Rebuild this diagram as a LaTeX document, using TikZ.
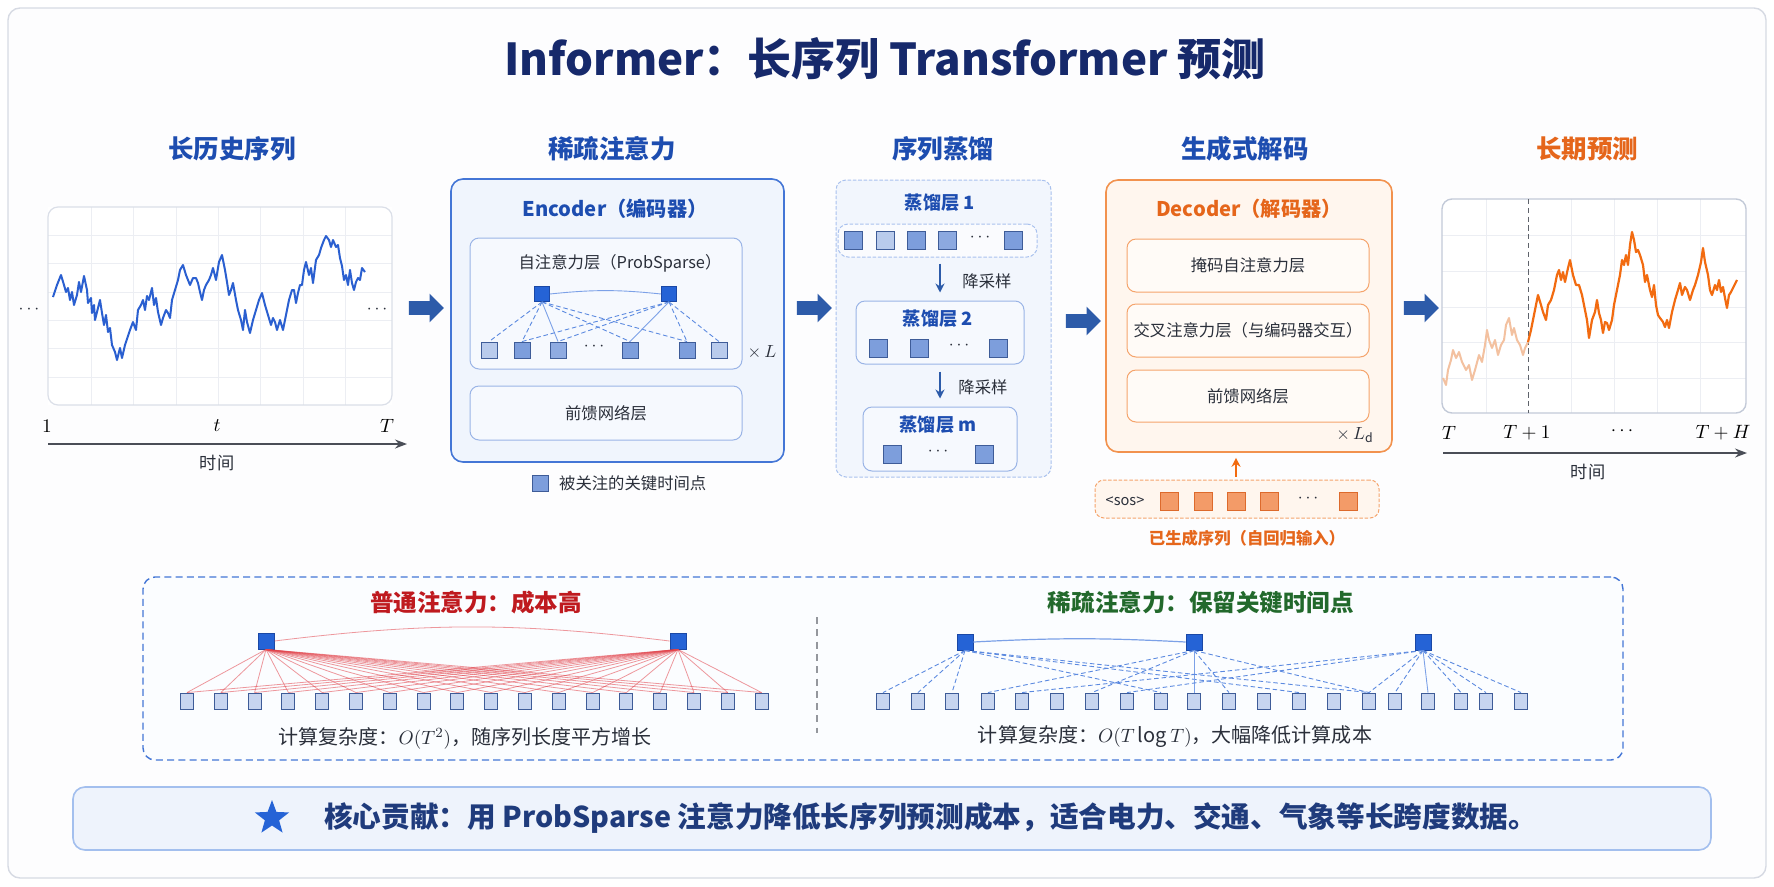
\documentclass[tikz,border=0pt]{standalone}
\usepackage{fontspec}
\setmainfont{Noto Sans CJK SC}
\usetikzlibrary{arrows.meta,shapes.arrows,shapes.geometric}

\newlength\pu
\setlength\pu{0.2mm}
\newcommand\fs[1]{\fontsize{#1}{#1}\selectfont}

\definecolor{titleblue}{HTML}{16296B}
\definecolor{headblue}{HTML}{1D4DB0}
\definecolor{headorange}{HTML}{E5661B}
\definecolor{encedge}{HTML}{4476D6}
\definecolor{encfill}{HTML}{F0F5FD}
\definecolor{inedge}{HTML}{9AB4E6}
\definecolor{infill}{HTML}{F6F9FE}
\definecolor{distedge}{HTML}{A9C1EE}
\definecolor{distfill}{HTML}{F2F6FD}
\definecolor{flowblue}{HTML}{2D5BA9}
\definecolor{keyblue}{HTML}{2563D6}
\definecolor{keyedge}{HTML}{1A48A6}
\definecolor{cmid}{HTML}{7D9EDC}
\definecolor{clight}{HTML}{B9CBEC}
\definecolor{sqedge}{HTML}{3E5C98}
\definecolor{decedge}{HTML}{F2924E}
\definecolor{decfill}{HTML}{FFF6EE}
\definecolor{decin}{HTML}{F5A46C}
\definecolor{orsq}{HTML}{F39B68}
\definecolor{oredge}{HTML}{DD6A2C}
\definecolor{redhead}{HTML}{BF1A1F}
\definecolor{costred}{HTML}{E2444C}
\definecolor{greenhead}{HTML}{22692C}
\definecolor{gridgray}{HTML}{ECEEF3}
\definecolor{framegray}{HTML}{D6DAE3}
\definecolor{textgray}{HTML}{2A2F3A}
\definecolor{bannerfill}{HTML}{EEF3FC}
\definecolor{banneredge}{HTML}{A3BFEE}
\definecolor{bannertext}{HTML}{1F3B7C}
\definecolor{histblue}{HTML}{2A5FD0}
\definecolor{fcast}{HTML}{F26B10}
\definecolor{fpast}{HTML}{F3C1A0}
\definecolor{chartedge}{HTML}{C3CAD8}

\tikzset{
  heading/.style={font=\fs{14.5}\bfseries, text=headblue},
  body/.style={font=\fs{9.3}, text=textgray},
  encbox/.style={draw=encedge, fill=encfill, rounded corners=12\pu, line width=1.6\pu},
  layerbox/.style={draw=inedge, fill=infill, rounded corners=9\pu, line width=1\pu},
  distbox/.style={draw=distedge, fill=distfill, rounded corners=10\pu, line width=1\pu, dash pattern=on 2pt off 1pt},
  decbox/.style={draw=decedge, fill=decfill, rounded corners=12\pu, line width=1.6\pu},
  declayer/.style={draw=decin, fill=white!55!decfill, rounded corners=9\pu, line width=1\pu},
  sq/.style={draw=sqedge, line width=0.9\pu, minimum size=16\pu, inner sep=0pt},
  keysq/.style={sq, fill=keyblue, draw=keyedge},
  midsq/.style={sq, fill=cmid},
  lightsq/.style={sq, fill=clight},
  cellsq/.style={sq, fill=clight!80!white, minimum width=13\pu, minimum height=16\pu},
  orangesq/.style={sq, fill=orsq, draw=oredge, minimum size=18\pu},
  flow/.style={single arrow, fill=flowblue, inner sep=0pt, text height=13\pu, text depth=0pt,
    minimum height=35\pu, single arrow head extend=7.5\pu},
  down/.style={flowblue, line width=2\pu, -{Stealth[length=5.1pt,width=5.1pt]}},
  att/.style={keyblue!75, line width=0.9\pu, dash pattern=on 2.6pt off 1.6pt},
  attsolid/.style={keyblue!60, line width=0.9\pu},
  costline/.style={costred, opacity=0.55, line width=0.8\pu},
  grid line/.style={gridgray, line width=0.8\pu},
  axis/.style={textgray!85, line width=1.4\pu, -{Stealth[length=6.8pt,width=5.1pt]}},
}

\begin{document}
\begin{tikzpicture}[x=0.2mm,y=-0.2mm]
\useasboundingbox (0,0) rectangle (1774,887);
% Frame
\draw[framegray, fill=white!70!gridgray!30, line width=1.4\pu, rounded corners=12\pu] (8,8) rectangle (1766,878);
\node[font=\fs{25}\bfseries, text=titleblue] (title) at (885,59) {Informer：长序列 Transformer 预测};

% Headings
\node[heading] (h1) at (232,149) {长历史序列};
\node[heading] (h2) at (612,149) {稀疏注意力};
\node[heading] (h3) at (943,149) {序列蒸馏};
\node[heading] (h4) at (1245,149) {生成式解码};
\node[heading, text=headorange] (h5) at (1587,149) {长期预测};

% History chart
\fill[white] (48,207) rectangle (392,405);
\foreach \x in {91,133,176,218,260,303,345} \draw[grid line] (\x,207) -- (\x,405);
\foreach \y in {235,263,292,320,348,377} \draw[grid line] (48,\y) -- (392,\y);
\draw[chartedge!60, line width=1.2\pu, rounded corners=10\pu] (48,207) rectangle (392,405);
\draw[histblue, line width=2\pu, line join=round] plot coordinates {
 (53,297) (57,285) (61,275) (64,285) (66,292) (68,288) (70,300) (72,292) (74,305) (77,295)
 (79,282) (81,292) (84,276) (87,290) (88,303) (91,298) (92,313) (94,305) (95,320) (98,308)
 (100,300) (102,313) (104,325) (106,315) (108,332) (110,328) (112,345) (115,352) (117,360) (120,348)
 (122,358) (125,345) (128,336) (130,330) (133,322) (136,330) (138,310) (141,305) (143,300) (145,310)
 (147,296) (149,300) (152,288) (154,305) (156,298) (158,312) (161,325) (163,318) (166,310) (168,313)
 (170,318) (172,300) (175,290) (178,280) (180,270) (183,265) (186,275) (190,285) (193,278) (196,278)
 (198,283) (200,292) (202,300) (204,290) (206,285) (209,280) (211,275) (213,268) (216,280) (219,262)
 (222,255) (225,270) (227,282) (229,295) (231,290) (233,283) (236,300) (238,310) (241,320) (243,330)
 (245,310) (247,322) (250,333) (253,320) (256,310) (259,300) (262,293) (265,305) (268,315) (271,325)
 (273,318) (275,322) (277,330) (280,320) (283,330) (286,315) (289,300) (292,290) (294,290) (296,303)
 (298,293) (300,285) (302,285) (304,270) (306,262) (309,275) (311,268) (313,283) (316,260) (319,255)
 (321,248) (324,240) (326,236) (329,240) (331,247) (333,240) (336,247) (338,245) (340,258) (342,266)
 (344,280) (346,275) (348,285) (350,270) (352,283) (354,290) (356,282) (358,278) (360,280) (362,268) (365,272)};
\node[text=textgray] (hdl) at (29,310) {$\cdots$};
\node[text=textgray] (hdr) at (377,310) {$\cdots$};
\node[font=\fs{10.8}] (t1) at (47,426) {$1$};
\node[font=\fs{10.8}] (tt) at (217,426) {$t$};
\node[font=\fs{10.8}] (tT) at (387,426) {$T$};
\coordinate (ax1a) at (48,444);
\coordinate (ax1b) at (407,444);
\draw[axis] (ax1a) -- (ax1b);
\node[body, font=\fs{9.8}] (time1) at (217,463) {时间};

% Encoder
\node[encbox, minimum width=333\pu, minimum height=283\pu] (enc) at (617.5,320.5) {};
\node[font=\fs{11.5}\bfseries, text=headblue] (enct) at (615,209) {Encoder（编码器）};
\node[layerbox, minimum width=272\pu, minimum height=131\pu] (attn) at (606,303.5) {};
\node[body] (attnt) at (620,263) {自注意力层（ProbSparse）};
\node[layerbox, minimum width=272\pu, minimum height=54\pu, body] (ffn) at (606,413) {前馈网络层};
\node[keysq, minimum size=15\pu] (kt1) at (542,294) {};
\node[keysq, minimum size=15\pu] (kt2) at (669,294) {};
\node[lightsq] (kb1) at (489,350) {};
\node[midsq] (kb2) at (522,350) {};
\node[sq, fill=cmid!70!clight] (kb3) at (558,350) {};
\node[midsq] (kb4) at (630,350) {};
\node[midsq] (kb5) at (687,350) {};
\node[lightsq] (kb6) at (719,350) {};
\node[text=textgray] (kdots) at (594,347) {$\cdots$};
\draw[attsolid] (kt1.east) to[bend left=6] (kt2.west);
\foreach \b in {kb1,kb2,kb4,kb5} \draw[att] (kt1.south) -- (\b.north);
\draw[attsolid] (kt1.south) -- (kb3.north);
\foreach \b in {kb2,kb3,kb5,kb6} \draw[att] (kt2.south) -- (\b.north);
\draw[attsolid] (kt2.south) -- (kb4.north);
\node[text=textgray, font=\fs{10}] (xl) at (762,352) {$\times\, L$};
\node[midsq] (legsq) at (540,483) {};
\node[body, anchor=west] (legt) at (553,483) {被关注的关键时间点};

% Distilling
\node[distbox, minimum width=215\pu, minimum height=297\pu] (dist) at (943.5,328.5) {};
\node[font=\fs{10.4}\bfseries, text=headblue] (d1t) at (940,203) {蒸馏层 1};
\node[distbox, fill=white!60!distfill, minimum width=199\pu, minimum height=33\pu] (row1) at (937.5,240.5) {};
\node[midsq, minimum size=18\pu] (r1a) at (853,240) {};
\node[lightsq, minimum size=18\pu] (r1b) at (885,240) {};
\node[midsq, minimum size=18\pu] (r1c) at (916,240) {};
\node[sq, fill=cmid!75!clight, minimum size=18\pu] (r1d) at (947,240) {};
\node[text=textgray] (r1dots) at (980,238) {$\cdots$};
\node[midsq, minimum size=18\pu] (r1e) at (1013,240) {};
\node[layerbox, minimum width=168\pu, minimum height=63\pu] (box2) at (940,332.5) {};
\node[font=\fs{10.4}\bfseries, text=headblue] (d2t) at (938,319) {蒸馏层 2};
\node[midsq, minimum size=18\pu] (r2a) at (878,348) {};
\node[midsq, minimum size=18\pu] (r2b) at (919,348) {};
\node[text=textgray] (r2dots) at (959,346) {$\cdots$};
\node[midsq, minimum size=18\pu] (r2c) at (998,348) {};
\node[layerbox, minimum width=154\pu, minimum height=64\pu] (box3) at (940,439) {};
\node[font=\fs{10.4}\bfseries, text=headblue] (d3t) at (938,425) {蒸馏层 m};
\node[midsq, minimum size=18\pu] (r3a) at (892,454) {};
\node[text=textgray] (r3dots) at (938,452) {$\cdots$};
\node[midsq, minimum size=18\pu] (r3b) at (984,454) {};
\draw[down, shorten <=6\pu, shorten >=8\pu] (row1.south -| d1t) -- (box2.north -| d1t);
\node[body] (ds1) at (987,281) {降采样};
\draw[down, shorten <=7\pu, shorten >=8\pu] (box2.south -| d1t) -- (box3.north -| d1t);
\node[body] (ds2) at (983,387) {降采样};

% Decoder
\node[decbox, minimum width=286\pu, minimum height=272\pu] (dec) at (1249,316) {};
\node[font=\fs{11.5}\bfseries, text=headorange] (dect) at (1249,209) {Decoder（解码器）};
\node[declayer, minimum width=242\pu, minimum height=53\pu, body] (mask) at (1248,265.5) {掩码自注意力层};
\node[declayer, minimum width=242\pu, minimum height=53\pu, body] (cross) at (1248,330.5) {交叉注意力层（与编码器交互）};
\node[declayer, minimum width=242\pu, minimum height=52\pu, body] (dffn) at (1248,396) {前馈网络层};
\node[text=textgray, font=\fs{10}] (xld) at (1355,435) {$\times\, L_{\mathrm{d}}$};
\node[draw=decin, fill=decfill, rounded corners=9\pu, line width=1\pu, dash pattern=on 2pt off 1pt,
  minimum width=284\pu, minimum height=38\pu] (gen) at (1237,499) {};
\node[font=\fs{8.3}, text=textgray] (sos) at (1125,501) {<sos>};
\node[orangesq] (g1) at (1169,501) {};
\node[orangesq] (g2) at (1203,501) {};
\node[orangesq] (g3) at (1236,501) {};
\node[orangesq] (g4) at (1269,501) {};
\node[text=textgray] (gdots) at (1308,499) {$\cdots$};
\node[orangesq] (g5) at (1348,501) {};
\draw[fcast, line width=2.4\pu, -{Stealth[length=5.1pt,width=5.1pt]}, shorten <=3\pu, shorten >=5\pu]
  (gen.north -| g3) -- (dec.south -| g3);
\node[font=\fs{9.3}\bfseries, text=headorange] (gent) at (1247,538) {已生成序列（自回归输入）};

% Forecast chart
\fill[white] (1442,199) rectangle (1746,413);
\foreach \x in {1486,1571,1614,1657,1700} \draw[grid line] (\x,199) -- (\x,413);
\foreach \y in {235,271,307,342,378} \draw[grid line] (1442,\y) -- (1746,\y);
\draw[chartedge, line width=1.4\pu, rounded corners=10\pu] (1442,199) rectangle (1746,413);
\coordinate (cutT) at (1528,199);
\coordinate (cutB) at (1528,413);
\draw[textgray!75, line width=1\pu, dash pattern=on 3pt off 2pt] (cutT) -- (cutB);
\draw[fpast, line width=2\pu, line join=round] plot coordinates {
 (1443,378) (1446,385) (1448,370) (1451,360) (1453,350) (1456,358) (1459,352) (1462,362) (1466,370) (1469,365)
 (1472,380) (1475,370) (1479,355) (1482,362) (1485,345) (1487,330) (1489,340) (1492,348) (1495,340) (1498,355)
 (1501,345) (1504,340) (1506,325) (1509,318) (1512,335) (1514,328) (1517,340) (1520,345) (1523,355) (1525,348) (1528,342)};
\draw[fcast, line width=2.2\pu, line join=round] plot coordinates {
 (1528,342) (1531,330) (1533,320) (1536,305) (1538,295) (1541,305) (1543,312) (1546,320) (1548,305) (1551,300)
 (1554,290) (1557,275) (1559,270) (1561,280) (1563,272) (1565,282) (1568,268) (1570,260) (1573,275) (1576,285)
 (1579,285) (1582,295) (1585,310) (1587,320) (1589,338) (1592,320) (1595,312) (1597,300) (1599,313) (1601,320)
 (1603,333) (1605,322) (1607,323) (1609,330) (1612,320) (1614,305) (1617,290) (1620,275) (1622,260) (1624,265)
 (1626,255) (1628,265) (1630,245) (1632,232) (1634,240) (1636,252) (1638,250) (1640,255) (1643,265) (1645,282)
 (1647,275) (1650,290) (1652,297) (1654,285) (1656,305) (1658,315) (1660,318) (1663,322) (1665,327) (1667,320)
 (1669,328) (1672,312) (1675,300) (1678,290) (1680,283) (1682,295) (1685,287) (1687,290) (1690,300) (1693,290)
 (1695,285) (1698,275) (1701,262) (1703,248) (1705,262) (1708,275) (1710,290) (1712,295) (1715,285) (1717,290)
 (1719,280) (1721,292) (1723,287) (1725,298) (1727,308) (1729,295) (1731,292) (1734,286) (1737,280)};
\node[font=\fs{10.8}] (fT) at (1449,433) {$T$};
\node[font=\fs{10.8}] (fT1) at (1527,433) {$T+1$};
\node[font=\fs{10.8}] (fdots) at (1622,431) {$\cdots$};
\node[font=\fs{10.8}] (fTH) at (1723,433) {$T+H$};
\coordinate (ax2a) at (1443,453);
\coordinate (ax2b) at (1747,453);
\draw[axis] (ax2a) -- (ax2b);
\node[body, font=\fs{9.8}] (time2) at (1588,472) {时间};

% Flow arrows
\node[flow] (f1) at (423,308) {};
\node[flow] (f2) at (811,308) {};
\node[flow] (f3) at (1080,321) {};
\node[flow] (f4) at (1418,308) {};

% Comparison
\node[draw=encedge, fill=white!60!infill, rounded corners=12\pu, line width=1.4\pu, dash pattern=on 4pt off 2.4pt,
  minimum width=1480\pu, minimum height=183\pu] (cmp) at (883,668.5) {};
\coordinate (divT) at (817,617);
\coordinate (divB) at (817,733);
\draw[textgray!50, line width=1.2\pu, dash pattern=on 4pt off 3pt] (divT) -- (divB);
\node[font=\fs{13.4}\bfseries, text=redhead] (full) at (476,603) {普通注意力：成本高};
\node[font=\fs{13.4}\bfseries, text=greenhead] (sparse) at (1201,603) {稀疏注意力：保留关键时间点};
\node[keysq] (lt1) at (266,641) {};
\node[keysq] (lt2) at (678,641) {};
\foreach \i in {1,...,18} \node[cellsq] (lb\i) at ({187+(\i-1)*33.8},701) {};
\draw[costline] (lt1.east) to[bend left=7] (lt2.west);
\foreach \i in {1,...,18} {
  \draw[costline] (lt1.south) -- (lb\i.north);
  \draw[costline] (lt2.south) -- (lb\i.north);
}
\node[font=\fs{11.4}, text=textgray] (fullc) at (465,738) {计算复杂度：$O(T^2)$，随序列长度平方增长};
\node[keysq] (st1) at (965,642) {};
\node[keysq] (st2) at (1194,642) {};
\node[keysq] (st3) at (1423,642) {};
\foreach [count=\i] \x in {883,918,952,988,1022,1057,1092,1127,1161,1194,1229,1264,1299,1334,1369,1395,1428,1461,1486,1521}
  \node[cellsq] (rb\i) at (\x,701) {};
\draw[attsolid, line width=1.2\pu] (st1.east) to[bend left=3] (st2.west);
\foreach \i in {1,2,3,9,13,15} \draw[att] (st1.south) -- (rb\i.north);
\foreach \i in {4,7,11,15} \draw[att] (st2.south) -- (rb\i.north);
\draw[attsolid] (st2.south) -- (rb10.north);
\foreach \i in {5,8,15,16,18,19,20} \draw[att] (st3.south) -- (rb\i.north);
\draw[attsolid] (st3.south) -- (rb17.north);
\node[font=\fs{11.4}, text=textgray] (sparsec) at (1175,737) {计算复杂度：$O(T\log T)$，大幅降低计算成本};

% Banner
\node[draw=banneredge, fill=bannerfill, rounded corners=12\pu, line width=1.6\pu,
  minimum width=1638\pu, minimum height=63\pu] (banner) at (892,818.5) {};
\node[star, star points=5, star point ratio=2.4, fill=keyblue, inner sep=0pt, minimum size=36\pu] (star) at (272,818) {};
\node[anchor=west, font=\fs{16.3}\bfseries, text=bannertext] (bannert) at (318,818)
  {核心贡献：用 ProbSparse 注意力降低长序列预测成本，适合电力、交通、气象等长跨度数据。};
\end{tikzpicture}
\end{document}
